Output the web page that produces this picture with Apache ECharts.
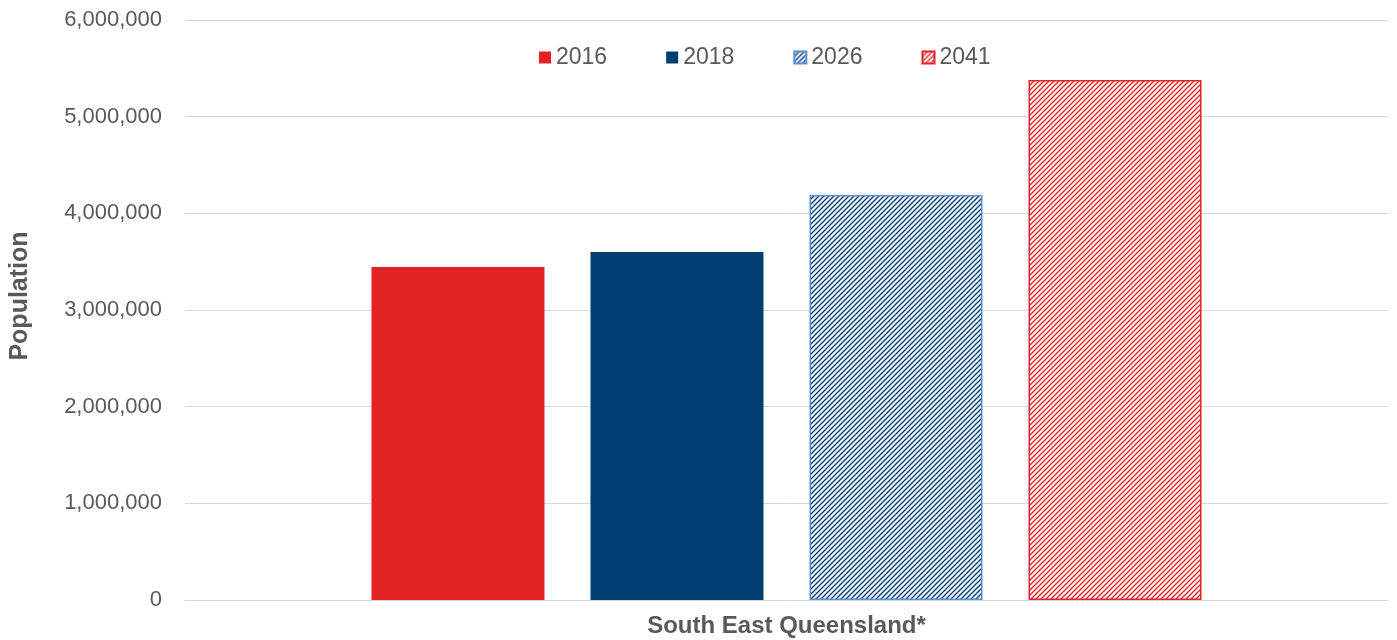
<!DOCTYPE html>
<html>
<head>
<meta charset="utf-8">
<script src="https://cdn.jsdelivr.net/npm/echarts@6/dist/echarts.min.js"></script>
<style>
  html, body { margin: 0; padding: 0; background: #fff; }
  #chart { width: 1397px; height: 640px; }
</style>
</head>
<body>
<div id="chart"></div>
<script>
// data
const categories = ['South East Queensland*'];
const years = ['2016', '2018', '2026', '2041'];
const values2016 = [3445000];
const values2018 = [3600000];
const values2026 = [4190000];
const values2041 = [5380000];

function hatch(color) {
  const size = 5;
  const c = document.createElement('canvas');
  c.width = size; c.height = size;
  const ctx = c.getContext('2d');
  ctx.fillStyle = '#fff';
  ctx.fillRect(0, 0, size, size);
  ctx.strokeStyle = color;
  ctx.lineWidth = 1.4;
  ctx.beginPath();
  ctx.moveTo(-1, size + 1); ctx.lineTo(size + 1, -1);
  ctx.moveTo(-1, 1); ctx.lineTo(1, -1);
  ctx.moveTo(size - 1, size + 1); ctx.lineTo(size + 1, size - 1);
  ctx.stroke();
  return { image: c, repeat: 'repeat' };
}

const red = '#e42226';
const navy = '#003d73';

const chart = echarts.init(document.getElementById('chart'));
chart.setOption({
  animation: false,
  textStyle: { fontFamily: 'Arial, Liberation Sans, sans-serif' },
  legend: {
    top: 41,
    left: 534,
    itemWidth: 12,
    itemHeight: 12,
    itemGap: 59,
    icon: 'rect',
    textStyle: { fontSize: 23, color: '#595959' },
    data: years
  },
  grid: { left: 185, right: 9, top: 20, bottom: 40, outerBoundsMode: 'none' },
  xAxis: {
    type: 'category',
    data: categories,
    axisLine: { lineStyle: { color: '#d9d9d9', width: 1 } },
    axisTick: { show: false },
    axisLabel: { fontSize: 24, fontWeight: 'bold', color: '#595959', margin: 14 }
  },
  yAxis: {
    type: 'value',
    min: 0,
    max: 6000000,
    interval: 1000000,
    name: 'Population',
    nameLocation: 'middle',
    nameGap: 152,
    nameTextStyle: { fontSize: 25, fontWeight: 'bold', color: '#595959', padding: [0, 0, 0, 28] },
    axisLabel: {
      fontSize: 22,
      color: '#595959',
      margin: 23,
      formatter: v => v.toLocaleString('en-US')
    },
    splitLine: { lineStyle: { color: '#d9d9d9', width: 1 } }
  },
  series: [
    { name: '2016', type: 'bar', data: values2016, barWidth: 173, barGap: '26.6%',
      itemStyle: { color: red } },
    { name: '2018', type: 'bar', data: values2018, barWidth: 173,
      itemStyle: { color: navy } },
    { name: '2026', type: 'bar', data: values2026, barWidth: 173,
      itemStyle: { color: hatch(navy), borderColor: '#5b8fd3', borderWidth: 1.5 } },
    { name: '2041', type: 'bar', data: values2041, barWidth: 173,
      itemStyle: { color: hatch(red), borderColor: red, borderWidth: 1.5 } }
  ]
});
</script>
</body>
</html>
